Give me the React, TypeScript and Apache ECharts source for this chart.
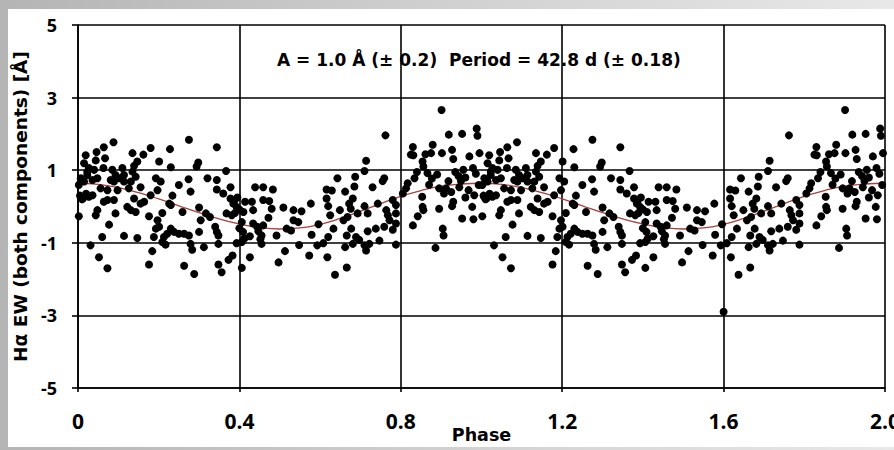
import React, { useEffect, useRef } from "react";
import * as echarts from "echarts";

// One phase cycle of measured points (phase 0..1); the plot shows it twice (0..2).
const cyclePhase = [
  0.088, 0.275, 0.064, 0.046, 0.019, 0.135, 0.162, 0.180, 0.228, 0.067, 0.044, 0.201, 0.298, 0.294, 0.015, 0.027,
  0.147, 0.139, 0.230, 0.023, 0.040, 0.063, 0.007, 0.023, 0.036, 0.048, 0.015, 0.002, 0.085, 0.093, 0.110, 0.114,
  0.102, 0.081, 0.089, 0.114, 0.135, 0.143, 0.131, 0.193, 0.205, 0.197, 0.274, 0.321, 0.250, 0.279, 0.056, 0.073,
  0.098, 0.126, 0.155, 0.007, 0.027, 0.036, 0.180, 0.234, 0.064, 0.073, 0.089, 0.139, 0.155, 0.164, 0.226, 0.230,
  0.122, 0.131, 0.143, 0.048, 0.044, 0.093, 0.002, 0.176, 0.209, 0.259, 0.300, 0.317, 0.197, 0.304, 0.077, 0.193,
  0.201, 0.300, 0.230, 0.238, 0.250, 0.263, 0.275, 0.221, 0.213, 0.060, 0.114, 0.147, 0.188, 0.031, 0.209, 0.217,
  0.279, 0.312, 0.184, 0.283, 0.052, 0.176, 0.263, 0.073, 0.288, 0.005, 0.012, 0.020, 0.010,
  0.344, 0.367, 0.344, 0.344, 0.360, 0.378, 0.439, 0.459, 0.483, 0.643, 0.616, 0.629, 0.662, 0.414, 0.431, 0.459,
  0.474, 0.385, 0.393, 0.616, 0.577, 0.509, 0.534, 0.554, 0.620, 0.625, 0.649, 0.434, 0.480, 0.472, 0.368, 0.381,
  0.389, 0.410, 0.327, 0.340, 0.344, 0.348, 0.406, 0.434, 0.444, 0.459, 0.534, 0.546, 0.596, 0.633, 0.658, 0.517,
  0.528, 0.409, 0.426, 0.455, 0.492, 0.579, 0.620, 0.666, 0.348, 0.393, 0.406, 0.455, 0.548, 0.593, 0.608, 0.662,
  0.513, 0.383, 0.373, 0.426, 0.573, 0.618, 0.348, 0.497, 0.666, 0.356, 0.406, 0.637, 0.378, 0.387, 0.395, 0.400,
  0.400, 0.412, 0.447, 0.452,
  0.901, 0.762, 0.919, 0.952, 0.988, 0.990, 0.879, 0.927, 0.830, 0.861, 0.875, 0.825, 0.902, 0.930, 0.970, 0.995,
  0.854, 0.856, 0.714, 0.710, 0.979, 0.955, 0.986, 0.687, 0.759, 0.755, 0.834, 0.877, 0.943, 0.949, 0.817, 0.813,
  0.805, 0.685, 0.730, 0.895, 0.912, 0.907, 0.945, 0.968, 0.982, 0.993, 0.681, 0.710, 0.743, 0.780, 0.788, 0.764,
  0.853, 0.854, 0.856, 0.895, 0.927, 0.930, 0.977, 0.672, 0.676, 0.668, 0.693, 0.718, 0.768, 0.788, 0.772, 0.842,
  0.952, 0.980, 0.677, 0.718, 0.738, 0.759, 0.780, 0.788, 0.830, 0.904, 0.906, 0.689, 0.697, 0.747, 0.681, 0.710,
  0.722, 0.788, 0.714, 0.886, 0.831, 0.840, 0.866, 0.890, 0.918, 0.935, 0.960, 0.870, 0.925, 0.960,
];
const cycleEW = [
  1.77, 1.84, 1.63, 1.50, 1.41, 1.47, 1.43, 1.61, 1.58, 1.33, 1.27, 1.24, 1.21, 1.10, 1.19, 1.06,
  1.24, 1.12, 1.08, 0.96, 1.01, 1.06, 0.78, 0.87, 0.73, 0.78, 0.69, 0.59, 1.01, 0.87, 1.06, 0.87,
  0.78, 0.73, 0.69, 0.69, 0.96, 0.82, 0.69, 0.78, 0.69, 0.45, 0.75, 0.78, 0.59, 0.41, 0.50, 0.45,
  0.45, 0.50, 0.53, 0.27, 0.27, 0.31, 0.31, 0.30, 0.13, 0.18, 0.18, 0.22, 0.08, 0.13, 0.08, 0.04,
  -0.01, -0.10, -0.15, -0.10, -0.24, -0.19, -0.27, -0.27, -0.18, -0.15, -0.03, -0.19, -0.38, -0.38, -0.50, -0.61,
  -0.56, -0.70, -0.61, -0.70, -0.75, -0.75, -0.80, -0.75, -0.84, -0.84, -0.81, -0.87, -0.84, -1.07, -0.98, -1.05,
  -1.03, -1.12, -1.23, -1.19, -1.40, -1.60, -1.63, -1.70, -1.86, 0.30, 0.22, 0.35, 0.20,
  1.63, 0.98, 0.73, 0.47, 0.36, 0.53, 0.53, 0.53, 0.47, 0.78, 0.47, 0.44, 0.41, 0.13, 0.13, 0.18,
  0.15, 0.08, -0.01, 0.22, 0.08, -0.03, -0.10, -0.13, 0.01, -0.24, -0.10, -0.10, -0.06, -0.31, -0.19, -0.24,
  -0.18, -0.15, -0.29, -0.56, -0.70, -0.80, -0.43, -0.47, -0.56, -0.52, -0.38, -0.43, -0.49, -0.61, -0.38, -0.61,
  -0.66, -0.70, -0.82, -0.80, -0.80, -0.78, -0.84, -0.80, -1.03, -1.01, -0.98, -1.03, -1.06, -1.07, -1.01, -1.12,
  -1.23, -1.35, -1.47, -1.40, -1.35, -1.40, -1.60, -1.54, -1.68, -1.81, -1.69, -1.88, 0.22, 0.15, 0.25, -0.08,
  -0.60, -0.88, -0.68, -0.90,
  2.66, 1.96, 1.98, 2.00, 2.15, 1.95, 1.70, 1.56, 1.64, 1.44, 1.47, 1.43, 1.47, 1.31, 1.38, 1.47,
  1.24, 1.10, 1.26, 0.98, 1.06, 1.01, 0.90, 0.82, 0.78, 0.70, 0.78, 0.77, 0.84, 0.70, 0.64, 0.50,
  0.36, 0.55, 0.53, 0.50, 0.50, 0.36, 0.53, 0.45, 0.31, 0.59, 0.22, 0.01, 0.08, 0.18, 0.04, -0.10,
  0.27, -0.01, -0.10, -0.06, 0.01, 0.13, -0.01, 0.08, -0.06, -0.29, -0.19, -0.19, -0.24, -0.19, -0.38, -0.27,
  -0.33, -0.35, -0.61, -0.68, -0.61, -0.56, -0.64, -0.47, -0.52, -0.61, -0.80, -0.84, -0.92, -0.94, -1.03, -1.07,
  -1.03, -1.05, -1.21, -1.14, 1.41, 0.95, 0.92, 0.88, 0.70, 0.95, 0.80, 0.60, 0.40, 0.25,
];
// Single point seen only once (second cycle)
const extraPhase = [1.6];
const extraEW = [-2.9];

// Fitted curve read at phase steps of 0.05 (one cycle)
const curvePhase = [0, 0.05, 0.1, 0.15, 0.2, 0.25, 0.3, 0.35, 0.4, 0.45, 0.5, 0.55, 0.6, 0.65, 0.7, 0.75, 0.8, 0.85, 0.9, 0.95, 1.0];
const curveEW = [0.64, 0.61, 0.52, 0.38, 0.21, 0.02, -0.17, -0.34, -0.48, -0.58, -0.62, -0.59, -0.49, -0.33, -0.13, 0.08, 0.28, 0.44, 0.56, 0.62, 0.64];

const xTicks = [0, 0.4, 0.8, 1.2, 1.6, 2.0];
const yTicks = [-5, -3, -1, 1, 3, 5];
const annotation = "A = 1.0 Å (± 0.2)  Period = 42.8 d (± 0.18)";
const xName = "Phase";
const yName = "Hα EW (both components) [Å]";

const FONT = "'Open Sans'";
const WIDE = "'DejaVu Sans'";

export default function App() {
  const ref = useRef<HTMLDivElement>(null);
  useEffect(() => {
    if (!ref.current) return;
    const chart = echarts.init(ref.current, undefined, { renderer: "svg" });
    const points: number[][] = [];
    for (let k = 0; k < 2; k++) {
      cyclePhase.forEach((p, i) => points.push([p + k, cycleEW[i]]));
    }
    extraPhase.forEach((p, i) => points.push([p, extraEW[i]]));
    const curve: number[][] = [];
    for (let k = 0; k < 2; k++) {
      curvePhase.forEach((p, i) => {
        if (k === 1 && i === 0) return;
        curve.push([p + k, curveEW[i]]);
      });
    }
    const lineStyle = { color: "#000", width: 1.6 };
    chart.setOption({
      animation: false,
      backgroundColor: "#fff",
      grid: { left: 70, top: 16, right: 9, bottom: 59, containLabel: false, outerBoundsMode: "none" },
      xAxis: {
        type: "value",
        min: xTicks[0],
        max: xTicks[xTicks.length - 1],
        interval: 0.4,
        name: xName,
        nameLocation: "middle",
        nameGap: 38,
        nameMoveOverlap: false,
        nameTextStyle: { fontFamily: WIDE, fontWeight: "bold", fontSize: 17.5, color: "#000" },
        axisLine: { show: true, onZero: false, lineStyle },
        axisTick: { show: true, length: 4, lineStyle },
        splitLine: { show: true, lineStyle },
        axisLabel: {
          margin: 22,
          fontFamily: FONT,
          fontWeight: "bold",
          fontSize: 21,
          color: "#000",
          formatter: (v: number) => (v === 0 ? "0" : v.toFixed(1)),
        },
      },
      yAxis: {
        type: "value",
        min: yTicks[0],
        max: yTicks[yTicks.length - 1],
        interval: 2,
        name: yName,
        nameLocation: "middle",
        nameGap: 48,
        nameRotate: 90,
        nameMoveOverlap: false,
        nameTextStyle: { fontFamily: WIDE, fontWeight: "bold", fontSize: 18.5, color: "#000" },
        axisLine: { show: true, onZero: false, lineStyle },
        axisTick: { show: true, length: 6, lineStyle },
        splitLine: { show: true, lineStyle },
        axisLabel: {
          margin: 21,
          fontFamily: FONT,
          fontWeight: "bold",
          fontSize: 18,
          color: "#000",
        },
      },
      graphic: [
        {
          type: "text",
          left: 269,
          top: 42,
          style: {
            text: annotation,
            fontFamily: WIDE,
            fontWeight: "bold",
            fontSize: 17,
            fill: "#000",
          },
          z: 10,
        },
      ],
      series: [
        {
          type: "line",
          data: curve,
          smooth: true,
          showSymbol: false,
          lineStyle: { color: "#a8423c", width: 1.3 },
          z: 2,
        },
        {
          type: "scatter",
          data: points,
          symbol: "circle",
          symbolSize: 8,
          itemStyle: { color: "#000", opacity: 1 },
          z: 3,
        },
      ],
    });
    return () => chart.dispose();
  }, []);

  return (
    <div
      style={{
        position: "fixed",
        left: 0,
        top: 0,
        width: 894,
        height: 450,
        background: "linear-gradient(to right, #b4b4b4 0%, #d0d0d0 50%, #e8e8e8 100%)",
        overflow: "hidden",
      }}
    >
      <div
        ref={ref}
        style={{ position: "absolute", left: 8, top: 9, width: 886, height: 438, background: "#fff" }}
      />
    </div>
  );
}
